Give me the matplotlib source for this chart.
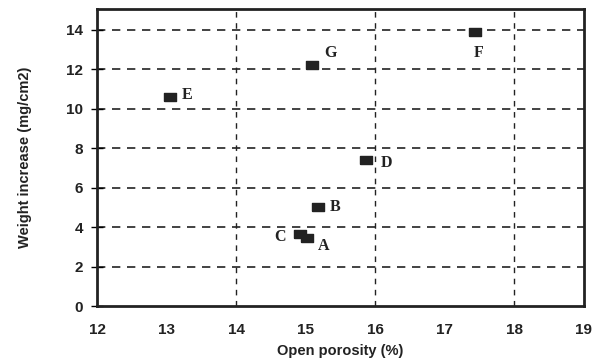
import matplotlib
matplotlib.use("Agg")
import matplotlib.pyplot as plt
import numpy as np
from matplotlib.path import Path

# data
labels = ["A", "B", "C", "D", "E", "F", "G"]
porosity = [15.02, 15.18, 14.92, 15.86, 13.05, 17.44, 15.09]
weight = [3.45, 5.0, 3.65, 7.4, 10.6, 13.9, 12.2]
# label offsets in points
offsets = {"A": (8, -6), "B": (8, 0), "C": (-19, -2), "D": (11, -2),
           "E": (8, 1), "F": (-1, -15), "G": (9, 9)}

xticks = [12, 13, 14, 15, 16, 17, 18, 19]
yticks = [0, 2, 4, 6, 8, 10, 12, 14]

fig = plt.figure(figsize=(6, 3.63), dpi=100)
ax = fig.add_axes([0.162, 0.157, 0.811, 0.818])

rect = Path([(-1.5, -1), (1.5, -1), (1.5, 1), (-1.5, 1), (-1.5, -1)])
ax.plot(porosity, weight, linestyle="none", marker=rect, markersize=8,
        color="#222222", zorder=3)

for lab, x, y in zip(labels, porosity, weight):
    dx, dy = offsets[lab]
    ax.annotate(lab, (x, y), xytext=(dx, dy), textcoords="offset points",
                ha="left", va="center", fontsize=11.5, fontweight="bold",
                family="Liberation Serif", color="#222222")

for yv in yticks[1:]:
    ax.axhline(yv, color="#222222", linestyle=(0, (5, 4)), linewidth=1.2, zorder=1)
for xv in [14, 16, 18]:
    ax.axvline(xv, color="#222222", linestyle=(0, (4, 4)), linewidth=1.0, zorder=1)

ax.set_xlim(12, 19)
ax.set_ylim(0, 15.05)
ax.set_xticks(xticks)
ax.set_yticks(yticks)
ax.tick_params(axis="x", length=0, pad=12)
ax.tick_params(axis="y", direction="inout", length=8, width=1, pad=6)
for t in ax.get_xticklabels() + ax.get_yticklabels():
    t.set_fontfamily("Liberation Sans")
    t.set_fontweight("bold")
    t.set_fontsize(11)
    t.set_color("#222222")

for s in ax.spines.values():
    s.set_linewidth(2)
    s.set_color("#222222")

ax.set_xlabel("Open porosity (%)", fontsize=10.5, fontweight="bold",
              family="Liberation Sans", color="#222222", labelpad=5)
ax.set_ylabel("Weight increase (mg/cm2)", fontsize=10.5, fontweight="bold",
              family="Liberation Sans", color="#222222", labelpad=25)

fig.savefig("out.png", dpi=100)
